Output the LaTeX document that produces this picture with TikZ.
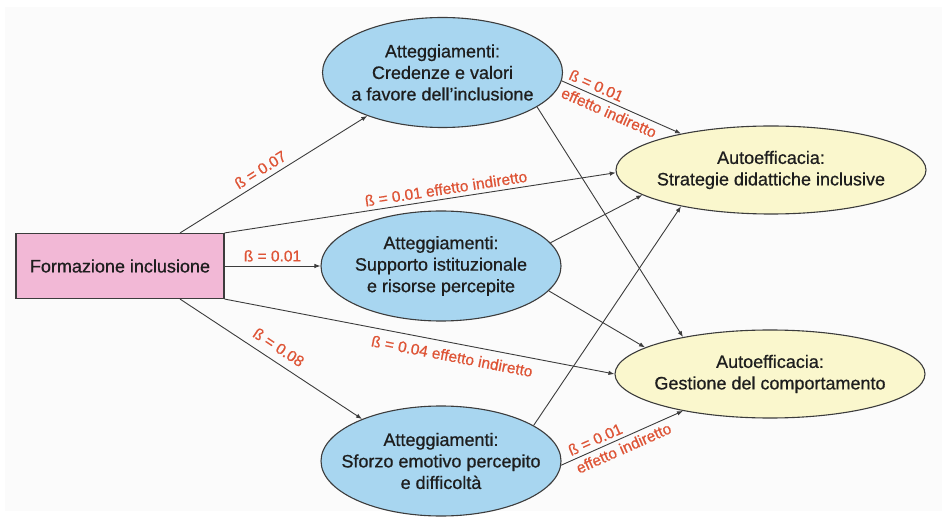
\documentclass[tikz,border=0pt]{standalone}
\usepackage{fontspec}
\setmainfont{Liberation Sans}
\newfontfamily\medfont{Liberation Sans}[BoldFont={Liberation Sans}, BoldFeatures={FakeBold=0.7}]
\usetikzlibrary{shapes.geometric,arrows.meta}
\definecolor{bluefill}{RGB}{168,214,240}
\definecolor{yelfill}{RGB}{250,247,205}
\definecolor{pinkfill}{RGB}{242,184,214}
\definecolor{labred}{RGB}{222,84,54}
\definecolor{edgecol}{RGB}{60,60,60}
\definecolor{txtcol}{RGB}{30,30,30}
\definecolor{bgfill}{RGB}{251,251,251}
\tikzset{
  nodetext/.style={text=txtcol, align=center, font=\medfont\bfseries\fontsize{18}{21.5}\selectfont},
  attbox/.style={nodetext, ellipse, draw=edgecol, line width=1.1pt, fill=bluefill,
    minimum width=240pt, minimum height=110pt, inner sep=-30pt},
  effbox/.style={nodetext, ellipse, draw=edgecol, line width=1.1pt, fill=yelfill,
    minimum width=310pt, minimum height=88pt, inner sep=-30pt},
  formbox/.style={nodetext, rectangle, draw=edgecol, line width=1.1pt, fill=pinkfill,
    minimum width=208pt, minimum height=65pt},
  conn/.style={draw=edgecol, line width=0.9pt, -{Latex[length=6pt,width=4.5pt]}},
  beta/.style={text=labred, font=\medfont\bfseries\fontsize{15.5}{19.5}\selectfont, sloped, inner sep=4pt},
}
\begin{document}
\begin{tikzpicture}[x=1pt,y=-1pt]
\useasboundingbox (0,0) rectangle (947,518);
\fill[white] (0,0) rectangle (947,518);
\fill[bgfill] (5,7) rectangle (942,511);

\node[formbox] (R) at (120,266) {Formazione inclusione};
\node[attbox] (E1) at (442.5,72.5) {Atteggiamenti:\\Credenze e valori\\a favore dell’inclusione};
\node[attbox] (E2) at (441,266) {Atteggiamenti:\\Supporto istituzionale\\e risorse percepite};
\node[attbox] (E3) at (441,461) {Atteggiamenti:\\Sforzo emotivo percepito\\e difficoltà};
\node[effbox] (Y1) at (771,170) {Autoefficacia:\\Strategie didattiche inclusive};
\node[effbox] (Y2) at (770,374) {Autoefficacia:\\Gestione del comportamento};

\draw[conn] ([xshift=60pt]R.north) -- node[beta, above, pos=0.46, inner sep=5pt] {ß = 0.07} (E1.210);
\draw[conn] (R.north east) -- node[beta, above, pos=0.57] {ß = 0.01 effetto indiretto} (Y1.181);
\draw[conn] (R.east) -- node[beta, above, pos=0.5] {ß = 0.01} (E2.west);
\draw[conn] (R.south east) -- node[beta, below, pos=0.59, inner sep=7pt] {ß = 0.04 effetto indiretto} (Y2.180);
\draw[conn] ([xshift=60pt]R.south) -- node[beta, above, pos=0.50, inner sep=8pt] {ß = 0.08} (E3.152);
\draw[conn] (E1.-4) -- node[beta, pos=0.43, align=left, inner sep=0pt] {ß = 0.01\\effetto indiretto} (Y1.158);
\draw[conn] (E1.-20) -- (Y2.157);
\draw[conn] (E2.12) -- (Y1.191);
\draw[conn] (E2.-13.5) -- (Y2.168);
\draw[conn] (E3.21) -- (Y1.202);
\draw[conn] (E3.-2) -- node[beta, pos=0.48, align=left, inner sep=0pt] {ß = 0.01\\effetto indiretto} (Y2.203);
\end{tikzpicture}
\end{document}
